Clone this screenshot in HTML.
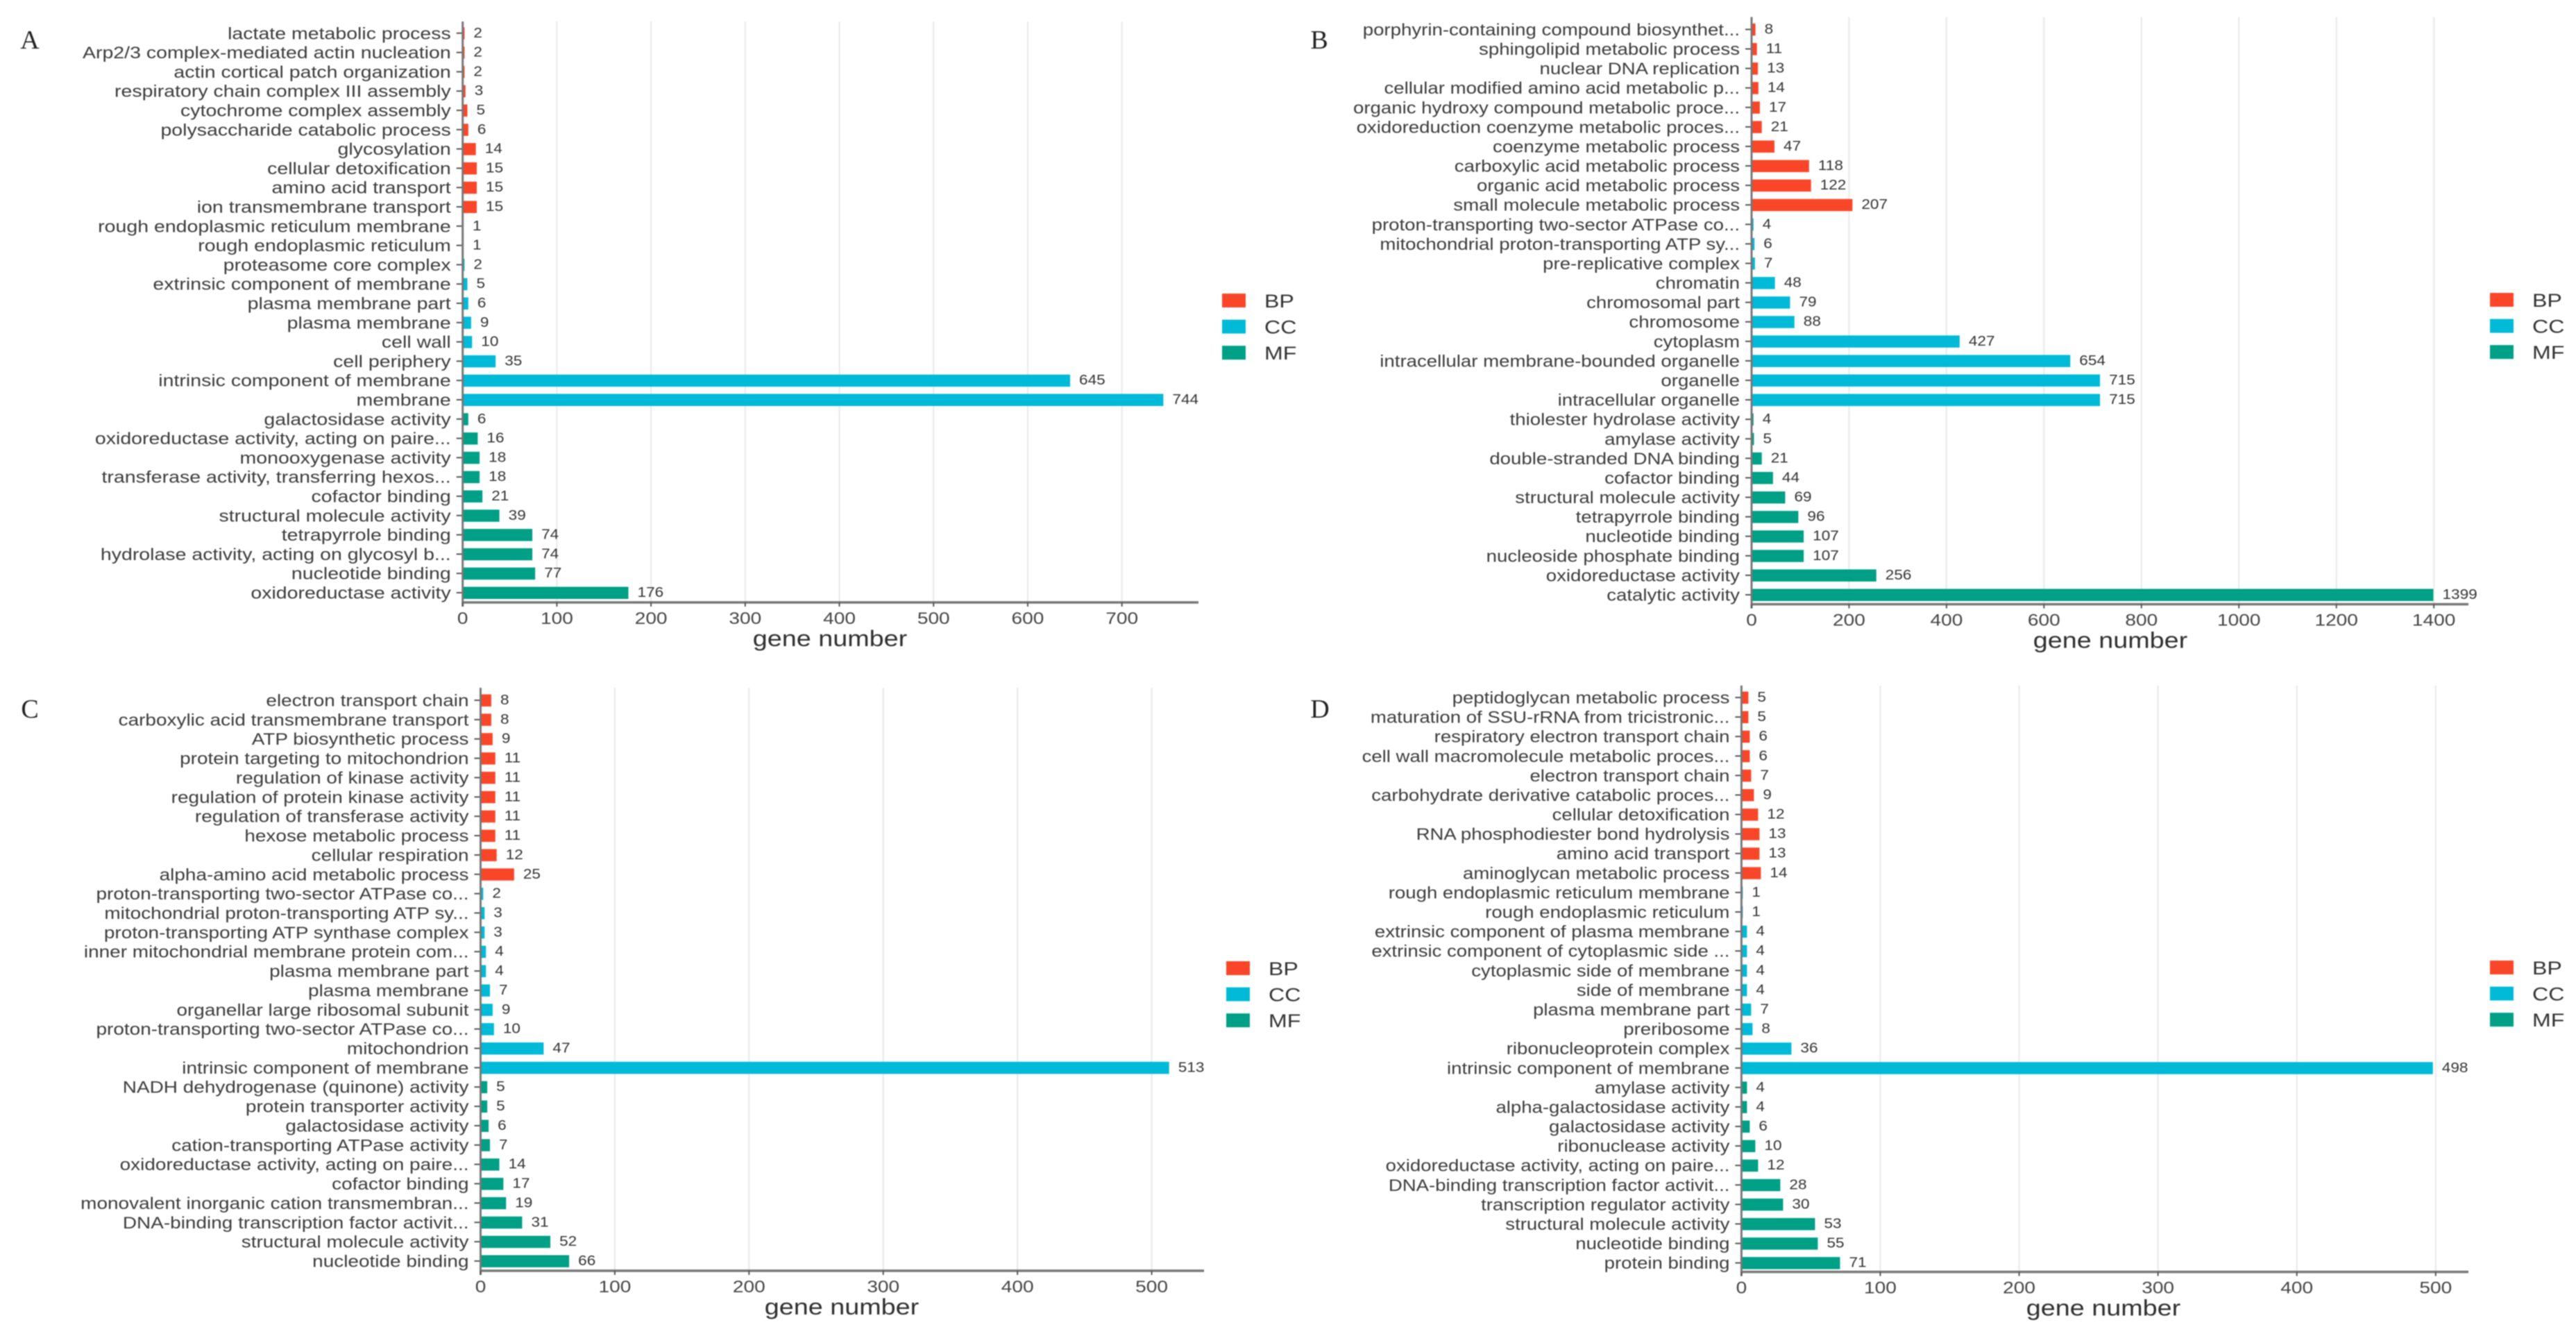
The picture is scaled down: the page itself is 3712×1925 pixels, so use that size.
<!DOCTYPE html>
<html lang="en">
<head>
<meta charset="utf-8">
<title>GO enrichment bar charts</title>
<style>
html,body{margin:0;padding:0;background:#fff;}
body{width:3712px;height:1925px;overflow:hidden;}
#figure{display:block;filter:blur(0.8px);}
text{font-family:"Liberation Sans",Arial,sans-serif;}
.letter{font-family:"Liberation Serif","Times New Roman",serif;}
</style>
</head>
<body>
<svg id="figure" xmlns="http://www.w3.org/2000/svg" width="3712" height="1925" viewBox="0 0 3712 1925"></svg>
<script>
const groupNames = ["BP", "CC", "MF"];
const groupColors = ["#FA4628", "#00BAD8", "#00A086"];
const rowGroups = [0,0,0,0,0,0,0,0,0,0,1,1,1,1,1,1,1,1,1,1,2,2,2,2,2,2,2,2,2,2];

const categoriesA = ["lactate metabolic process","Arp2/3 complex-mediated actin nucleation","actin cortical patch organization","respiratory chain complex III assembly","cytochrome complex assembly","polysaccharide catabolic process","glycosylation","cellular detoxification","amino acid transport","ion transmembrane transport","rough endoplasmic reticulum membrane","rough endoplasmic reticulum","proteasome core complex","extrinsic component of membrane","plasma membrane part","plasma membrane","cell wall","cell periphery","intrinsic component of membrane","membrane","galactosidase activity","oxidoreductase activity, acting on paire...","monooxygenase activity","transferase activity, transferring hexos...","cofactor binding","structural molecule activity","tetrapyrrole binding","hydrolase activity, acting on glycosyl b...","nucleotide binding","oxidoreductase activity"];
const valuesA = [2,2,2,3,5,6,14,15,15,15,1,1,2,5,6,9,10,35,645,744,6,16,18,18,21,39,74,74,77,176];
const ticksA = [0,100,200,300,400,500,600,700];

const categoriesB = ["porphyrin-containing compound biosynthet...","sphingolipid metabolic process","nuclear DNA replication","cellular modified amino acid metabolic p...","organic hydroxy compound metabolic proce...","oxidoreduction coenzyme metabolic proces...","coenzyme metabolic process","carboxylic acid metabolic process","organic acid metabolic process","small molecule metabolic process","proton-transporting two-sector ATPase co...","mitochondrial proton-transporting ATP sy...","pre-replicative complex","chromatin","chromosomal part","chromosome","cytoplasm","intracellular membrane-bounded organelle","organelle","intracellular organelle","thiolester hydrolase activity","amylase activity","double-stranded DNA binding","cofactor binding","structural molecule activity","tetrapyrrole binding","nucleotide binding","nucleoside phosphate binding","oxidoreductase activity","catalytic activity"];
const valuesB = [8,11,13,14,17,21,47,118,122,207,4,6,7,48,79,88,427,654,715,715,4,5,21,44,69,96,107,107,256,1399];
const ticksB = [0,200,400,600,800,1000,1200,1400];

const categoriesC = ["electron transport chain","carboxylic acid transmembrane transport","ATP biosynthetic process","protein targeting to mitochondrion","regulation of kinase activity","regulation of protein kinase activity","regulation of transferase activity","hexose metabolic process","cellular respiration","alpha-amino acid metabolic process","proton-transporting two-sector ATPase co...","mitochondrial proton-transporting ATP sy...","proton-transporting ATP synthase complex","inner mitochondrial membrane protein com...","plasma membrane part","plasma membrane","organellar large ribosomal subunit","proton-transporting two-sector ATPase co...","mitochondrion","intrinsic component of membrane","NADH dehydrogenase (quinone) activity","protein transporter activity","galactosidase activity","cation-transporting ATPase activity","oxidoreductase activity, acting on paire...","cofactor binding","monovalent inorganic cation transmembran...","DNA-binding transcription factor activit...","structural molecule activity","nucleotide binding"];
const valuesC = [8,8,9,11,11,11,11,11,12,25,2,3,3,4,4,7,9,10,47,513,5,5,6,7,14,17,19,31,52,66];
const ticksC = [0,100,200,300,400,500];

const categoriesD = ["peptidoglycan metabolic process","maturation of SSU-rRNA from tricistronic...","respiratory electron transport chain","cell wall macromolecule metabolic proces...","electron transport chain","carbohydrate derivative catabolic proces...","cellular detoxification","RNA phosphodiester bond hydrolysis","amino acid transport","aminoglycan metabolic process","rough endoplasmic reticulum membrane","rough endoplasmic reticulum","extrinsic component of plasma membrane","extrinsic component of cytoplasmic side ...","cytoplasmic side of membrane","side of membrane","plasma membrane part","preribosome","ribonucleoprotein complex","intrinsic component of membrane","amylase activity","alpha-galactosidase activity","galactosidase activity","ribonuclease activity","oxidoreductase activity, acting on paire...","DNA-binding transcription factor activit...","transcription regulator activity","structural molecule activity","nucleotide binding","protein binding"];
const valuesD = [5,5,6,6,7,9,12,13,13,14,1,1,4,4,4,4,7,8,36,498,4,4,6,10,12,28,30,53,55,71];
const ticksD = [0,100,200,300,400,500];

const SVGNS = "http://www.w3.org/2000/svg";
const svg = document.getElementById("figure");

function make(parent, tag, attrs) {
  const el = document.createElementNS(SVGNS, tag);
  for (const k in attrs) el.setAttribute(k, attrs[k]);
  parent.appendChild(el);
  return el;
}
function makeText(parent, str, x, y, size, sx, anchor, fill) {
  const el = make(parent, "text", {
    transform: "translate(" + x + " " + y + ") scale(" + sx + " 1)",
    "font-size": size, "text-anchor": anchor, fill: fill
  });
  el.textContent = str;
  return el;
}

function drawPanel(letter, categories, values, ticks, cfg) {
  const g = make(svg, "g", {});
  
  

  const xScale = v => cfg.x0 + (v / cfg.xMax) * (cfg.xEnd - cfg.x0);
  const yScale = i => cfg.yFirst + i * (cfg.yLast - cfg.yFirst) / (categories.length - 1);

  const lab = make(g, "text", {x: cfg.letterX, y: cfg.letterY, "font-size": 38, "text-anchor": "middle", fill: "#222", "class": "letter"});
  lab.textContent = letter;
  
  

  ticks.forEach(t => {
    if (t === 0) return;
    const grid = make(g, "line", {x1: xScale(t), x2: xScale(t), y1: cfg.yTop, y2: cfg.yAxis, stroke: "#ececec", "stroke-width": 2.5});
    
    
  });

  categories.forEach((name, i) => {
    const y = yScale(i);
    const grp = rowGroups[i];

    const bar = make(g, "rect", {x: xScale(0), y: y - 8.5, width: Math.max(0, xScale(values[i]) - xScale(0)), height: 17.5, fill: groupColors[grp]});
    
    

    const tick = make(g, "line", {x1: xScale(0) - 9, x2: xScale(0), y1: y, y2: y, stroke: "#555", "stroke-width": 2});
    
    

    const label = makeText(g, name, xScale(0) - 17, y + 8.5, 24, cfg.labelSx, "end", "#3c3c3c");
    
    

    const val = makeText(g, String(values[i]), xScale(values[i]) + 13, y + 6, 20, 1.13, "start", "#333");
    
    
  });

  const yAxis = make(g, "line", {x1: xScale(0), x2: xScale(0), y1: cfg.yTop, y2: cfg.yAxis + 6, stroke: "#777", "stroke-width": 3});
  
  

  const xAxis = make(g, "line", {x1: xScale(0), x2: cfg.xEnd, y1: cfg.yAxis, y2: cfg.yAxis, stroke: "#777", "stroke-width": 3.5});
  
  

  ticks.forEach(t => {
    const mark = make(g, "line", {x1: xScale(t), x2: xScale(t), y1: cfg.yAxis, y2: cfg.yAxis + 6, stroke: "#555", "stroke-width": 2});
    
    

    const tl = makeText(g, String(t), xScale(t), cfg.yAxis + 31, 24, 1.17, "middle", "#444");
    
    
  });

  const title = makeText(g, "gene number", cfg.titleX, cfg.yAxis + 63, 32, 1.18, "middle", "#2f2f2f");
  
  

  groupNames.forEach((name, i) => {
    const ly = cfg.legendY + i * 37.6;
    const sw = make(g, "rect", {x: cfg.legendX, y: ly - 10, width: 34, height: 20, fill: groupColors[i]});
    
    

    const lt = makeText(g, name, cfg.legendX + 61, ly + 10, 27, 1.19, "start", "#333");
    
    
  });
}

drawPanel("A", categoriesA, valuesA, ticksA, {x0: 666.7, xEnd: 1727, xMax: 781.3, yFirst: 47.8, yLast: 854, yTop: 31, yAxis: 868, titleX: 1196, legendX: 1761, legendY: 433, letterX: 43, letterY: 70, labelSx: 1.188});
drawPanel("B", categoriesB, valuesB, ticksB, {x0: 2524, xEnd: 3557, xMax: 1471, yFirst: 42.4, yLast: 857, yTop: 24.5, yAxis: 870.6, titleX: 3041, legendX: 3588, legendY: 432, letterX: 1901, letterY: 70, labelSx: 1.151});
drawPanel("C", categoriesC, valuesC, ticksC, {x0: 692.5, xEnd: 1735, xMax: 539, yFirst: 1009, yLast: 1817, yTop: 991, yAxis: 1831, titleX: 1213, legendX: 1767, legendY: 1395, letterX: 43, letterY: 1034, labelSx: 1.165});
drawPanel("D", categoriesD, valuesD, ticksD, {x0: 2509.4, xEnd: 3557, xMax: 523.6, yFirst: 1005, yLast: 1819.7, yTop: 987.7, yAxis: 1832.6, titleX: 3031, legendX: 3588, legendY: 1394, letterX: 1902, letterY: 1034, labelSx: 1.149});
</script>
</body>
</html>
